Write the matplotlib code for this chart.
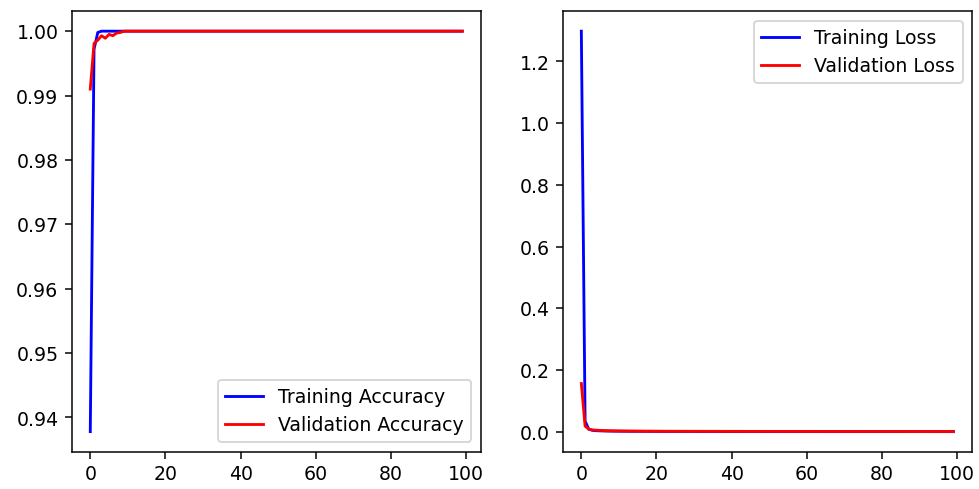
import matplotlib
matplotlib.use("Agg")
import matplotlib.pyplot as plt

epochs = list(range(100))

train_acc = [
    0.9378, 0.9972, 0.9998, 1.0000, 1.0000, 1.0000, 1.0000, 1.0000, 1.0000, 1.0000,
    1.0000, 1.0000, 1.0000, 1.0000, 1.0000, 1.0000, 1.0000, 1.0000, 1.0000, 1.0000,
    1.0000, 1.0000, 1.0000, 1.0000, 1.0000, 1.0000, 1.0000, 1.0000, 1.0000, 1.0000,
    1.0000, 1.0000, 1.0000, 1.0000, 1.0000, 1.0000, 1.0000, 1.0000, 1.0000, 1.0000,
    1.0000, 1.0000, 1.0000, 1.0000, 1.0000, 1.0000, 1.0000, 1.0000, 1.0000, 1.0000,
    1.0000, 1.0000, 1.0000, 1.0000, 1.0000, 1.0000, 1.0000, 1.0000, 1.0000, 1.0000,
    1.0000, 1.0000, 1.0000, 1.0000, 1.0000, 1.0000, 1.0000, 1.0000, 1.0000, 1.0000,
    1.0000, 1.0000, 1.0000, 1.0000, 1.0000, 1.0000, 1.0000, 1.0000, 1.0000, 1.0000,
    1.0000, 1.0000, 1.0000, 1.0000, 1.0000, 1.0000, 1.0000, 1.0000, 1.0000, 1.0000,
    1.0000, 1.0000, 1.0000, 1.0000, 1.0000, 1.0000, 1.0000, 1.0000, 1.0000, 1.0000,
]

val_acc = [
    0.9910, 0.9981, 0.9986, 0.9993, 0.9989, 0.9995, 0.9993, 0.9997, 0.9998, 1.0000,
    1.0000, 1.0000, 1.0000, 1.0000, 1.0000, 1.0000, 1.0000, 1.0000, 1.0000, 1.0000,
    1.0000, 1.0000, 1.0000, 1.0000, 1.0000, 1.0000, 1.0000, 1.0000, 1.0000, 1.0000,
    1.0000, 1.0000, 1.0000, 1.0000, 1.0000, 1.0000, 1.0000, 1.0000, 1.0000, 1.0000,
    1.0000, 1.0000, 1.0000, 1.0000, 1.0000, 1.0000, 1.0000, 1.0000, 1.0000, 1.0000,
    1.0000, 1.0000, 1.0000, 1.0000, 1.0000, 1.0000, 1.0000, 1.0000, 1.0000, 1.0000,
    1.0000, 1.0000, 1.0000, 1.0000, 1.0000, 1.0000, 1.0000, 1.0000, 1.0000, 1.0000,
    1.0000, 1.0000, 1.0000, 1.0000, 1.0000, 1.0000, 1.0000, 1.0000, 1.0000, 1.0000,
    1.0000, 1.0000, 1.0000, 1.0000, 1.0000, 1.0000, 1.0000, 1.0000, 1.0000, 1.0000,
    1.0000, 1.0000, 1.0000, 1.0000, 1.0000, 1.0000, 1.0000, 1.0000, 1.0000, 1.0000,
]

train_loss = [
    1.2980, 0.0340, 0.0075, 0.0042, 0.0031, 0.0026, 0.0022, 0.0019, 0.0017, 0.0015,
    0.0014, 0.0013, 0.0012, 0.0011, 0.0011, 0.0010, 0.0010, 0.0009, 0.0009, 0.0008,
    0.0008, 0.0008, 0.0007, 0.0007, 0.0007, 0.0007, 0.0006, 0.0006, 0.0006, 0.0006,
    0.0006, 0.0005, 0.0005, 0.0005, 0.0005, 0.0005, 0.0005, 0.0005, 0.0004, 0.0004,
    0.0004, 0.0004, 0.0004, 0.0004, 0.0004, 0.0004, 0.0004, 0.0004, 0.0003, 0.0003,
    0.0003, 0.0003, 0.0003, 0.0003, 0.0003, 0.0003, 0.0003, 0.0003, 0.0003, 0.0003,
    0.0003, 0.0003, 0.0003, 0.0003, 0.0002, 0.0002, 0.0002, 0.0002, 0.0002, 0.0002,
    0.0002, 0.0002, 0.0002, 0.0002, 0.0002, 0.0002, 0.0002, 0.0002, 0.0002, 0.0002,
    0.0002, 0.0002, 0.0002, 0.0002, 0.0002, 0.0002, 0.0002, 0.0002, 0.0002, 0.0002,
    0.0002, 0.0002, 0.0002, 0.0001, 0.0001, 0.0001, 0.0001, 0.0001, 0.0001, 0.0001,
]

val_loss = [
    0.1560, 0.0180, 0.0080, 0.0056, 0.0047, 0.0040, 0.0035, 0.0031, 0.0028, 0.0026,
    0.0024, 0.0022, 0.0021, 0.0020, 0.0019, 0.0018, 0.0017, 0.0016, 0.0016, 0.0015,
    0.0015, 0.0014, 0.0014, 0.0013, 0.0013, 0.0013, 0.0012, 0.0012, 0.0012, 0.0011,
    0.0011, 0.0011, 0.0011, 0.0010, 0.0010, 0.0010, 0.0010, 0.0010, 0.0009, 0.0009,
    0.0009, 0.0009, 0.0009, 0.0009, 0.0008, 0.0008, 0.0008, 0.0008, 0.0008, 0.0008,
    0.0008, 0.0007, 0.0007, 0.0007, 0.0007, 0.0007, 0.0007, 0.0007, 0.0007, 0.0007,
    0.0006, 0.0006, 0.0006, 0.0006, 0.0006, 0.0006, 0.0006, 0.0006, 0.0006, 0.0006,
    0.0006, 0.0006, 0.0005, 0.0005, 0.0005, 0.0005, 0.0005, 0.0005, 0.0005, 0.0005,
    0.0005, 0.0005, 0.0005, 0.0005, 0.0005, 0.0005, 0.0005, 0.0004, 0.0004, 0.0004,
    0.0004, 0.0004, 0.0004, 0.0004, 0.0004, 0.0004, 0.0004, 0.0004, 0.0004, 0.0004,
]

fig, (ax_acc, ax_loss) = plt.subplots(1, 2, figsize=(7.2, 3.6), dpi=136)
fig.subplots_adjust(left=0.0732, right=0.9926, bottom=0.0763, top=0.976, wspace=0.2)

ax_acc.plot(epochs, train_acc, color="b", label="Training Accuracy")
ax_acc.plot(epochs, val_acc, color="r", label="Validation Accuracy")
ax_acc.set_xticks([0, 20, 40, 60, 80, 100])
ax_acc.legend(loc="lower right")

ax_loss.plot(epochs, train_loss, color="b", label="Training Loss")
ax_loss.plot(epochs, val_loss, color="r", label="Validation Loss")
ax_loss.set_xticks([0, 20, 40, 60, 80, 100])
ax_loss.legend(loc="upper right")

fig.savefig("out.png", dpi=136)
